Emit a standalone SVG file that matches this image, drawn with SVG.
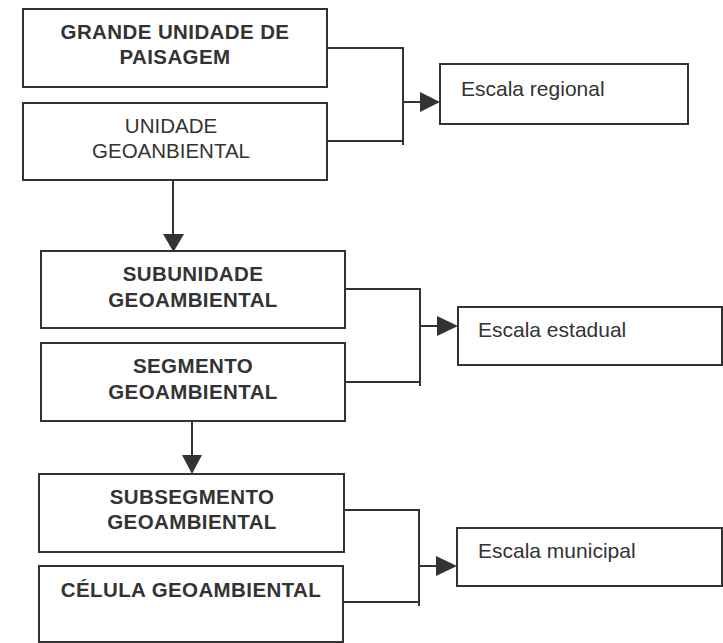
<svg xmlns="http://www.w3.org/2000/svg" width="723" height="643" viewBox="0 0 723 643">
<style>
.box{fill:#fff;stroke:#333;stroke-width:2}
.t{font-family:"Liberation Sans",Arial,sans-serif;font-size:21px;fill:#333}
.b{font-weight:bold;text-anchor:middle;font-size:20.5px;letter-spacing:0.4px}
.c{text-anchor:middle;font-size:20.5px}
.ln{fill:none;stroke:#333;stroke-width:2}
.ah{fill:#333}
</style>
<rect width="723" height="643" fill="#fff"/>
<g id="connectors">
<path class="ln" d="M327 48H403V145M327 141H403M403 102H422"/>
<polygon class="ah" points="420,92 440,102 420,112"/>
<path class="ln" d="M173 180V236"/>
<polygon class="ah" points="163,234 184,234 173.5,252"/>
<path class="ln" d="M345 289H420V386M345 382H420M420 326H439"/>
<polygon class="ah" points="437,316 458,326 437,336"/>
<path class="ln" d="M192 421V457"/>
<polygon class="ah" points="182,455 202,455 192,474"/>
<path class="ln" d="M344 510H419V606M344 602H419M419 566H438"/>
<polygon class="ah" points="436,556 457,566 436,576"/>
</g>
<g id="n1"><rect class="box" x="23" y="9" width="304" height="78"/>
<text class="t b" x="175" y="39">GRANDE UNIDADE DE</text>
<text class="t b" x="175" y="64">PAISAGEM</text></g>
<g id="n2"><rect class="box" x="23" y="103" width="304" height="77"/>
<text class="t c" x="171" y="133">UNIDADE</text>
<text class="t c" x="171" y="158">GEOANBIENTAL</text></g>
<g id="r1"><rect class="box" x="440" y="64" width="248" height="60"/>
<text class="t" x="461" y="96">Escala regional</text></g>
<g id="n3"><rect class="box" x="41" y="251" width="304" height="77"/>
<text class="t b" x="193" y="281">SUBUNIDADE</text>
<text class="t b" x="193" y="307">GEOAMBIENTAL</text></g>
<g id="n4"><rect class="box" x="41" y="343" width="304" height="78"/>
<text class="t b" x="193" y="373">SEGMENTO</text>
<text class="t b" x="193" y="399">GEOAMBIENTAL</text></g>
<g id="r2"><rect class="box" x="458" y="307" width="264" height="58"/>
<text class="t" x="478" y="337">Escala estadual</text></g>
<g id="n5"><rect class="box" x="39" y="474" width="305" height="78"/>
<text class="t b" x="192" y="504">SUBSEGMENTO</text>
<text class="t b" x="192" y="529">GEOAMBIENTAL</text></g>
<g id="n6"><rect class="box" x="39" y="566" width="304" height="76"/>
<text class="t b" x="191" y="597">CÉLULA GEOAMBIENTAL</text></g>
<g id="r3"><rect class="box" x="457" y="528" width="265" height="58"/>
<text class="t" x="478" y="558">Escala municipal</text></g>
</svg>
